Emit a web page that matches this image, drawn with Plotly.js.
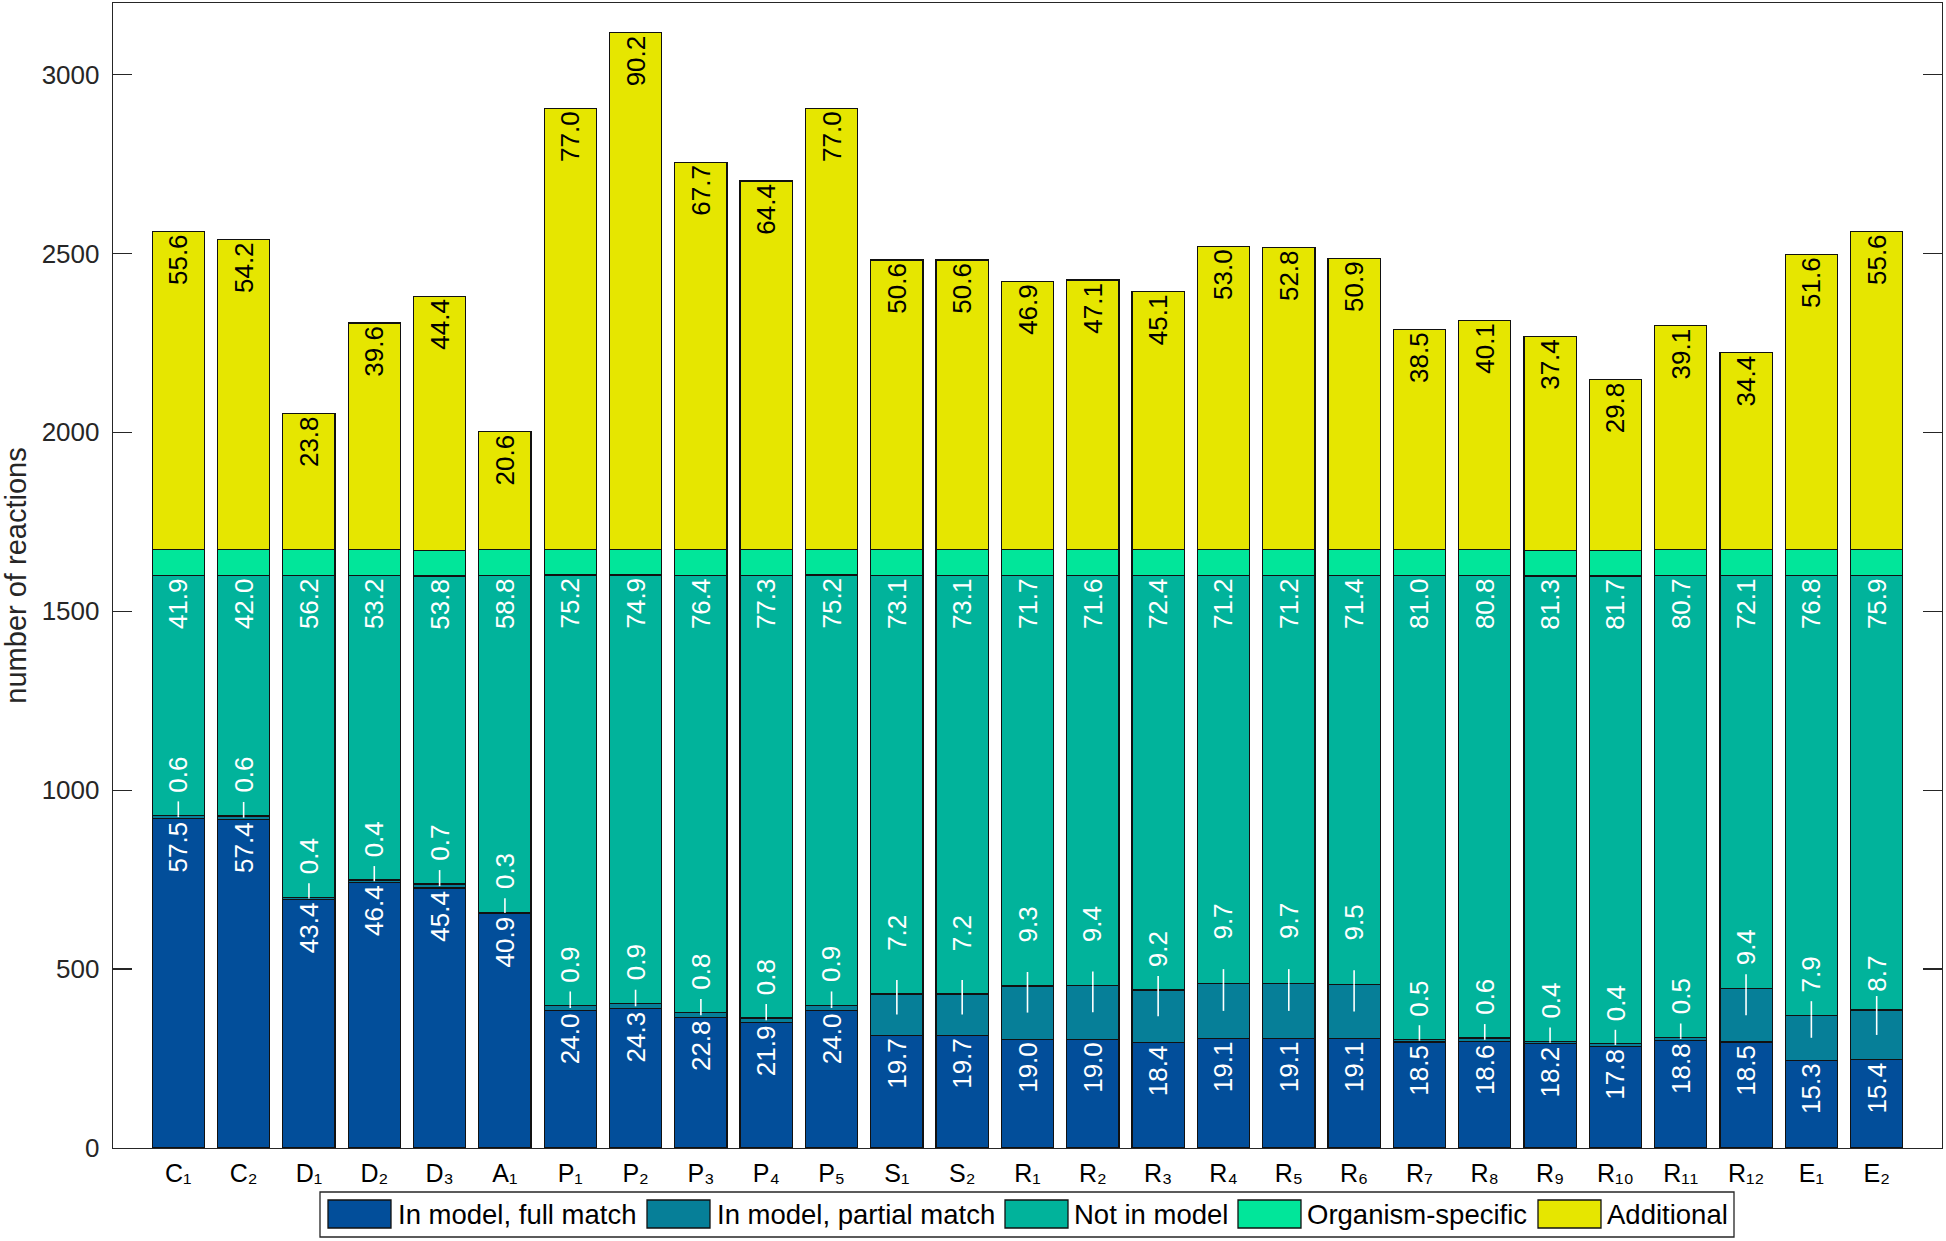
<!DOCTYPE html>
<html>
<head>
<meta charset="utf-8">
<script src="https://cdn.plot.ly/plotly-3.0.1.min.js"></script>
<style>
html, body { margin: 0; padding: 0; background: #ffffff; }
#chart { width: 1946px; height: 1241px; }
</style>
</head>
<body>
<div id="chart"></div>
<script>
// ---- data (percent of the 1600 reactions of the reference model) ----
const categories = ['C₁','C₂','D₁','D₂','D₃','A₁','P₁','P₂','P₃','P₄','P₅','S₁','S₂',
  'R₁','R₂','R₃','R₄','R₅','R₆','R₇','R₈','R₉','R₁₀','R₁₁','R₁₂','E₁','E₂'];
const fullMatch    = [57.5,57.4,43.4,46.4,45.4,40.9,24.0,24.3,22.8,21.9,24.0,19.7,19.7,19.0,19.0,18.4,19.1,19.1,19.1,18.5,18.6,18.2,17.8,18.8,18.5,15.3,15.4];
const partialMatch = [0.6,0.6,0.4,0.4,0.7,0.3,0.9,0.9,0.8,0.8,0.9,7.2,7.2,9.3,9.4,9.2,9.7,9.7,9.5,0.5,0.6,0.4,0.4,0.5,9.4,7.9,8.7];
const notInModel   = [41.9,42.0,56.2,53.2,53.8,58.8,75.2,74.9,76.4,77.3,75.2,73.1,73.1,71.7,71.6,72.4,71.2,71.2,71.4,81.0,80.8,81.3,81.7,80.7,72.1,76.8,75.9];
const additional   = [55.6,54.2,23.8,39.6,44.4,20.6,77.0,90.2,67.7,64.4,77.0,50.6,50.6,46.9,47.1,45.1,53.0,52.8,50.9,38.5,40.1,37.4,29.8,39.1,34.4,51.6,55.6];
const organismSpecificCount = [72,72,72,72,72,72,72,72,72,72,72,72,72,72,72,72,72,72,72,72,72,72,72,72,72,72,72];
const modelReactions = 1600;
const seriesNames = ['In model, full match','In model, partial match','Not in model','Organism-specific','Additional'];
const yTicks = [0,500,1000,1500,2000,2500,3000];

// ---- style ----
const colors = ['#024e9a','#067f98','#01b39b','#01e69a','#e6e600'];
const FONT = 'Liberation Sans, Arial, Helvetica, sans-serif';
const W = 1946, H = 1241;
const M = {l:113, r:4, t:3, b:93};
const PW = W - M.l - M.r, PH = H - M.t - M.b;
const px2x = px => (px - M.l) / PW;
const py2y = py => (H - M.b - py) / PH;
// pixel lift of the partial-match number above its segment (label placement only)
const partialLabelLiftPx = [25,25,25,25,25,25,25,25,25,25,25,45,45,45,45,25,46,46,46,25,25,25,25,25,25,25,20];

const toCount = arr => arr.map(v => v / 100 * modelReactions);
const fmt = arr => arr.map(v => v.toFixed(1));
const edge = {color:'#111111', width:1.2};

function barTrace(name, yvals, color, text, textColor) {
  const t = {
    type:'bar', name:name, x:categories, y:yvals,
    marker:{color:color, line:edge},
    hoverinfo:'skip'
  };
  if (text) {
    t.text = text;
    t.textposition = 'inside';
    t.insidetextanchor = 'end';
    t.textangle = -90;
    t.constraintext = 'none';
    t.insidetextfont = {family:FONT, size:26, color:textColor};
  }
  return t;
}

const fullC = toCount(fullMatch), partC = toCount(partialMatch), notC = toCount(notInModel), addC = toCount(additional);

const data = [
  barTrace(seriesNames[0], fullC, colors[0], fmt(fullMatch), '#ffffff'),
  barTrace(seriesNames[1], partC, colors[1], null),
  barTrace(seriesNames[2], notC, colors[2], fmt(notInModel), '#ffffff'),
  barTrace(seriesNames[3], organismSpecificCount, colors[3], null),
  barTrace(seriesNames[4], addC, colors[4], fmt(additional), '#000000')
];

// partial-match labels: white leader line + number
const shapes = [];
const annotations = [];
categories.forEach((c, i) => {
  const top = fullC[i] + partC[i];
  const mid = fullC[i] + partC[i] / 2;
  shapes.push({type:'line', xref:'x', yref:'y', x0:i, x1:i, y0:mid, y1:top, line:{color:'#ffffff', width:1.6}});
  shapes.push({type:'line', xref:'x', yref:'y', ysizemode:'pixel', yanchor:top, x0:i, x1:i, y0:0, y1:14, line:{color:'#ffffff', width:1.6}});
  annotations.push({xref:'x', yref:'y', x:i, y:top, text:partialMatch[i].toFixed(1), showarrow:false,
    textangle:-90, xanchor:'center', yanchor:'bottom', yshift:partialLabelLiftPx[i] - 3, borderpad:0,
    font:{family:FONT, size:26, color:'#ffffff'}});
});

// legend (drawn in paper space)
const legBox = {x0:320, x1:1734, y0:1192, y1:1237};
shapes.push({type:'rect', xref:'paper', yref:'paper', x0:px2x(legBox.x0), x1:px2x(legBox.x1), y0:py2y(legBox.y1), y1:py2y(legBox.y0),
  line:{color:'#262626', width:1.3}, fillcolor:'#ffffff', layer:'above'});
const swatchX = [328, 647, 1005, 1238, 1538];
const labelX = [397, 716, 1073, 1306, 1606];
seriesNames.forEach((n, k) => {
  shapes.push({type:'rect', xref:'paper', yref:'paper', x0:px2x(swatchX[k]), x1:px2x(swatchX[k] + 63), y0:py2y(1228), y1:py2y(1200),
    line:{color:'#111111', width:1.3}, fillcolor:colors[k], layer:'above'});
  annotations.push({xref:'paper', yref:'paper', x:px2x(labelX[k]), y:py2y(1214), text:n, showarrow:false,
    xanchor:'left', yanchor:'middle', borderpad:0, font:{family:FONT, size:27.5, color:'#000000'}});
});

const layout = {
  width:W, height:H,
  margin:M,
  paper_bgcolor:'#ffffff', plot_bgcolor:'#ffffff',
  barmode:'stack', bargap:0.2,
  showlegend:false,
  font:{family:FONT, color:'#262626'},
  xaxis:{
    type:'category', range:[-1, 27], showline:true, mirror:true, linecolor:'#262626', linewidth:1.3,
    ticks:'', showgrid:false, zeroline:false, tickfont:{family:'Liberation Sans, DejaVu Sans, sans-serif', size:25, color:'#000000'},
    ticklabelstandoff:3, fixedrange:true
  },
  yaxis:{
    range:[0, 3200], tickvals:yTicks, ticktext:yTicks.map(String),
    ticks:'inside', ticklen:19, tickwidth:1.3, tickcolor:'#262626',
    showline:true, mirror:'ticks', linecolor:'#262626', linewidth:1.3,
    showgrid:false, zeroline:false, tickfont:{family:FONT, size:26, color:'#262626'},
    ticklabelstandoff:7,
    title:{text:'number of reactions', font:{family:FONT, size:29, color:'#262626'}, standoff:8},
    fixedrange:true
  },
  shapes:shapes,
  annotations:annotations
};

Plotly.newPlot('chart', data, layout, {displayModeBar:false, staticPlot:true});
</script>
</body>
</html>
